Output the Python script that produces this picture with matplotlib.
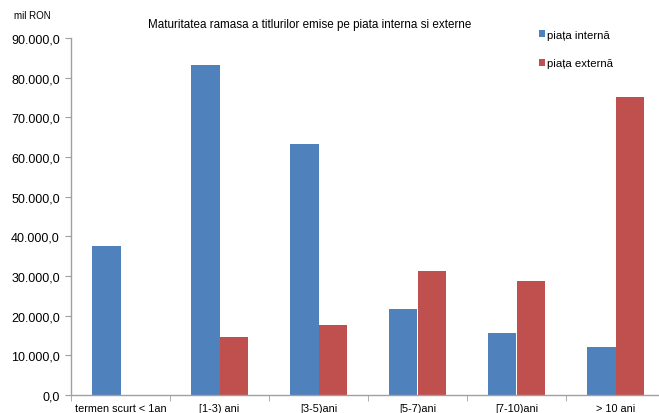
import matplotlib
matplotlib.use("Agg")
import matplotlib.pyplot as plt
import numpy as np
from matplotlib.ticker import FuncFormatter

plt.rcParams['font.family'] = ['Liberation Sans', 'DejaVu Sans']

categories = ["termen scurt < 1an", "[1-3) ani", "[3-5)ani", "[5-7)ani", "[7-10)ani", "> 10 ani"]
piata_interna = [37500, 83200, 63400, 21800, 15600, 12100]
piata_externa = [0, 14700, 17600, 31300, 28700, 75100]
series_names = ["piața internă", "piața externă"]
colors = ["#4F81BD", "#C0504D"]
yticks = list(range(0, 90001, 10000))

fig = plt.figure(figsize=(6.59, 4.14), dpi=100)
ax = fig.add_axes([71/659, 1-396/414, 594/659, (396-39)/414])

x = np.arange(len(categories))
w = 0.283
ax.bar(x - w/2, piata_interna, w, color=colors[0], label=series_names[0])
ax.bar(x + w/2, piata_externa, w, color=colors[1], label=series_names[1])

ax.set_xlim(-0.5, len(categories) - 0.5)
ax.set_ylim(0, 90000)
ax.set_yticks(yticks)
def fmt(v, pos):
    s = f"{int(round(v)):,}".replace(",", ".")
    return s + ",0"
ax.yaxis.set_major_formatter(FuncFormatter(fmt))
ax.set_xticks(x)
ax.set_xticklabels(categories, fontsize=7.8)
ax.set_xticks(np.arange(len(categories)+1) - 0.5, minor=True)
ax.tick_params(axis='x', which='major', length=0, pad=6)
ax.tick_params(axis='x', which='minor', length=4, color='#A0A0A0', direction='out')
ax.tick_params(axis='y', length=4, color='#A0A0A0', labelsize=9, pad=4)

for s in ['top', 'right']:
    ax.spines[s].set_visible(False)
for s in ['left', 'bottom']:
    ax.spines[s].set_color('#A0A0A0')
    ax.spines[s].set_linewidth(1.0)

fig.text(310/659, 1-25/414, "Maturitatea ramasa a titlurilor emise pe piata interna si externe",
         ha='center', va='center', fontsize=8.4)
fig.text(14/659, 1-16/414, "mil RON", ha='left', va='center', fontsize=7)

leg = fig.legend(loc='upper left', bbox_to_anchor=(534/659, 1-26/414), frameon=False,
                 fontsize=8.2, handlelength=0.6, handleheight=0.6, handletextpad=0.1,
                 labelspacing=1.65, borderaxespad=0)

fig.savefig("out.png", dpi=100)
